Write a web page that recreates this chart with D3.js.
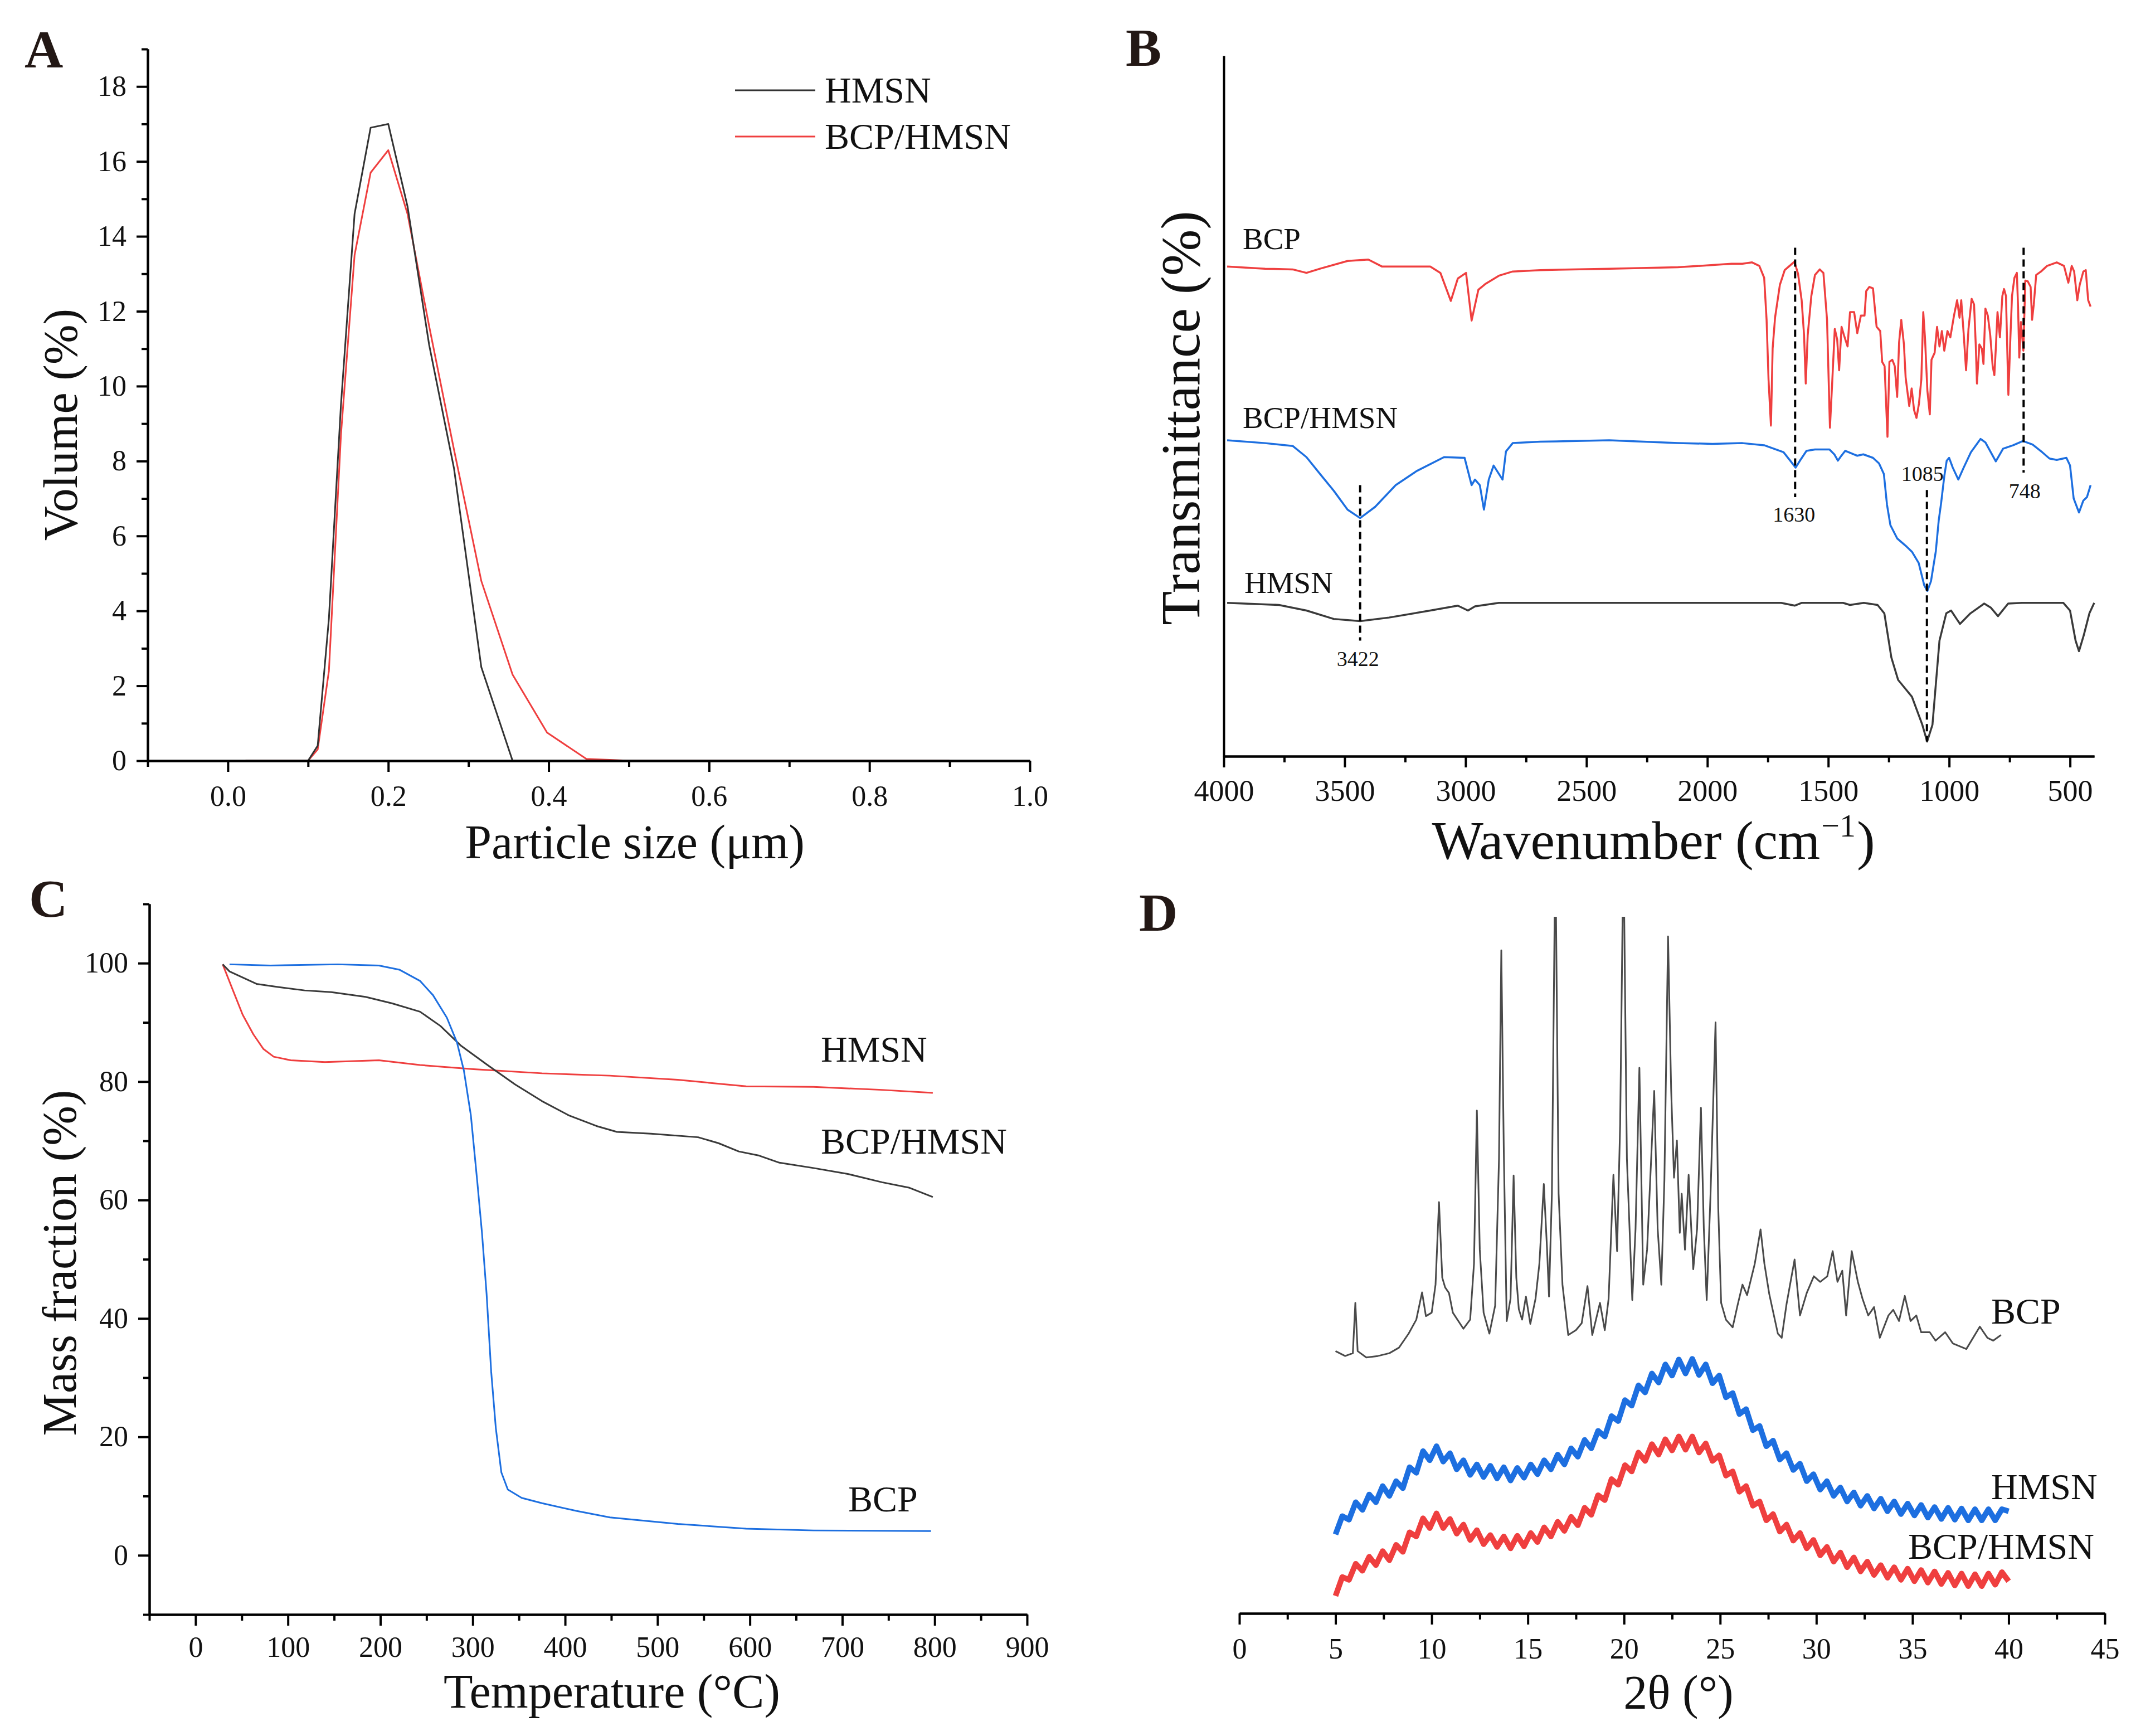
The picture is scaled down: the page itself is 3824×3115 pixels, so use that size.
<!DOCTYPE html>
<html>
<head>
<meta charset="utf-8">
<script src="https://cdn.jsdelivr.net/npm/d3@7"></script>
<style>
  body { margin: 0; background: #fff; }
</style>
</head>
<body>
<div id="fig"></div>
<script>
// ---------- A: particle size distribution ----------
const sizeUm = [0.022, 0.1, 0.112, 0.126, 0.141, 0.158, 0.178, 0.2, 0.224, 0.251, 0.282, 0.316, 0.355, 0.398, 0.447, 0.501, 0.9];
const hmsnVolume = [0, 0, 0.4, 3.8, 9.5, 14.6, 16.9, 17.0, 14.8, 11.1, 7.8, 2.5, 0, 0, 0, 0, 0];
const bcpHmsnVolume = [0, 0, 0.3, 2.4, 8.7, 13.5, 15.7, 16.3, 14.6, 11.6, 8.3, 4.8, 2.3, 0.75, 0.05, 0, 0];
const sizeTicks = [0, 0.2, 0.4, 0.6, 0.8, 1.0];
const sizeMinor = [-0.1, 0.1, 0.3, 0.5, 0.7, 0.9];
const volumeTicks = [0, 2, 4, 6, 8, 10, 12, 14, 16, 18];
const volumeMinor = [1, 3, 5, 7, 9, 11, 13, 15, 17, 19];

// ---------- B: FTIR (wavenumber, transmittance a.u.) ----------
const bcpIR = [[3986,69.9],[3829,69.6],[3715,69.5],[3658,69.0],[3602,69.6],[3488,70.7],[3402,70.9],[3345,69.9],[3146,69.9],[3104,69.0],[3061,65.0],[3032,68.2],[2998,69.0],[2975,62.2],[2947,66.6],[2919,67.4],[2862,68.6],[2805,69.2],[2691,69.4],[2406,69.6],[2122,69.8],[1900,70.3],
  [1855,70.3],[1815,70.5],[1785,70.0],[1765,68.3],[1755,62.3],[1747,53.8],[1737,47.2],[1730,58.2],[1720,62.6],[1700,67.3],[1680,69.4],[1640,70.6],[1625,68.9],[1610,65.1],[1600,60.1],[1593,53.2],[1585,60.1],[1570,65.7],[1555,68.7],[1535,69.5],[1520,69.0],[1505,62.3],[1493,46.9],[1483,53.8],[1473,61.0],[1463,59.5],[1455,55.1],[1445,61.3],[1435,60.1],[1420,58.5],[1410,63.4],[1393,63.4],[1380,60.4],[1365,62.9],[1350,62.9],[1343,66.4],[1330,67.0],[1315,66.8],[1300,61.3],[1285,60.7],[1277,56.3],[1267,55.7],[1255,45.6],[1247,56.3],[1235,56.6],[1225,55.7],[1215,51.3],[1207,59.1],[1198,62.3],[1187,58.8],[1180,54.1],[1165,50.0],[1155,52.5],[1145,49.4],[1135,48.3],[1125,50.3],[1115,53.8],[1107,63.4],[1100,59.8],[1090,52.2],[1080,48.8],[1073,56.6],[1060,57.6],[1050,61.3],[1040,58.5],[1030,60.7],[1020,57.9],[1007,60.7],[995,59.8],[980,62.9],[967,65.1],[957,62.6],[950,65.1],[940,60.4],[930,55.1],[920,61.0],[907,65.3],[897,64.5],[890,58.8],[885,53.2],[875,58.8],[865,58.2],[858,56.0],[850,63.9],[840,62.9],[830,60.1],[820,55.7],[813,54.4],[807,58.2],[800,63.4],[790,59.8],[780,65.7],[773,66.7],[765,65.7],[755,51.6],[747,59.5],[740,65.7],[730,68.3],[720,69.0],[715,64.2],[710,56.9],[703,62.0],[693,57.9],[685,67.9],[675,67.8],[663,67.0],[657,62.3],[650,64.5],[640,68.7],[620,69.2],[595,70.0],[555,70.5],[525,70.0],[507,67.6],[493,70.0],[483,69.2],[470,65.1],[460,67.3],[445,69.2],[435,69.4],[425,65.1],[415,64.2]];
const bcpHmsnIR = [[3986,45.1],[3829,44.7],[3715,44.3],[3658,42.7],[3602,40.3],[3545,37.9],[3488,35.2],[3436,34.0],[3374,35.6],[3289,38.7],[3203,40.7],[3089,42.7],[3004,42.6],[2975,38.7],[2961,39.5],[2941,38.7],[2924,35.2],[2904,39.5],[2884,41.5],[2862,40.3],[2847,39.5],[2833,43.5],[2805,44.7],[2691,44.9],[2406,45.1],[2122,44.7],[1979,44.6],[1855,44.7],[1765,44.4],[1725,43.9],[1685,43.4],[1655,42.1],[1635,41.2],[1615,42.3],[1590,43.6],[1555,43.8],[1495,43.8],[1475,43.1],[1460,42.2],[1450,42.7],[1430,43.6],[1395,43.1],[1380,42.9],[1355,43.1],[1315,42.6],[1290,41.8],[1270,40.3],[1257,35.9],[1243,33.0],[1215,31.1],[1175,29.9],[1154,29.2],[1126,27.6],[1103,24.4],[1090,23.6],[1075,25.0],[1055,29.3],[1043,33.7],[1033,36.2],[1020,40.0],[1010,42.2],[1000,42.6],[985,41.2],[962,39.5],[940,41.2],[910,43.4],[870,45.3],[850,44.8],[807,42.1],[777,43.9],[735,44.4],[695,45.0],[655,44.5],[615,43.4],[585,42.5],[555,42.3],[515,42.6],[500,41.5],[485,36.8],[463,34.8],[445,36.5],[430,37.0],[415,38.7]];
const hmsnIR = [[3986,21.9],[3772,21.6],[3658,20.8],[3545,19.6],[3436,19.3],[3317,19.8],[3146,20.8],[3032,21.5],[2990,20.8],[2961,21.4],[2862,21.9],[1695,21.9],[1638,21.5],[1609,21.9],[1439,21.9],[1410,21.6],[1353,21.9],[1296,21.6],[1268,20.4],[1239,14.1],[1211,10.9],[1154,8.5],[1111,4.5],[1091,2.1],[1069,4.5],[1040,16.5],[1012,20.4],[992,20.8],[969,19.6],[955,18.9],[912,20.4],[855,21.8],[827,21.2],[798,20.0],[756,21.8],[699,21.9],[528,21.9],[500,20.8],[477,16.5],[463,15.0],[443,17.3],[420,20.4],[400,21.9]];
const irMarks = [
  { wave: 3436, label: '3422', from: 38.7, to: 16.5 },
  { wave: 1637, label: '1630', from: 72.6, to: 37.0 },
  { wave: 1092, label: '1085', from: 38.0, to: 2.1 },
  { wave: 692,  label: '748',  from: 72.6, to: 40.5 }
];
const waveTicks = [4000, 3500, 3000, 2500, 2000, 1500, 1000, 500];
const waveMinor = [3750, 3250, 2750, 2250, 1750, 1250, 750];

// ---------- C: TGA (temperature °C, mass %) ----------
const hmsnTG = [[29.4,99.8],[40,95.6],[51,91.3],[62.5,88],[73.5,85.5],[84.6,84.2],[103,83.6],[140,83.3],[198.5,83.6],[243,82.8],[301,82.1],[375,81.4],[448.5,81],[522,80.3],[596,79.2],[669,79.1],[743,78.6],[798,78.1]];
const bcpHmsnTG = [[29.4,99.8],[36.8,98.6],[66,96.5],[88,96],[118,95.4],[147,95.1],[184,94.3],[213,93.2],[243,91.8],[265,89.4],[287,86.1],[316,82.8],[346,79.5],[375,76.7],[404,74.3],[434,72.5],[456,71.5],[493,71.2],[544,70.6],[566,69.6],[588,68.2],[610,67.5],[632,66.3],[669,65.4],[706,64.4],[743,63],[772,62.1],[798,60.5]];
const bcpTG = [[36.8,99.8],[81,99.6],[154,99.8],[198.5,99.6],[220.6,98.9],[243,97],[257,94.6],[272,90.8],[283,86.6],[290.4,81.9],[298,74.3],[305,63],[310,54.5],[315,44.2],[320,31],[325,21.5],[331,14],[338,11.1],[353,9.7],[375,8.8],[412,7.5],[448.5,6.4],[522,5.3],[596,4.5],[669,4.2],[796,4.1]];
const tempTicks = [0, 100, 200, 300, 400, 500, 600, 700, 800, 900];
const tempMinor = [-50, 50, 150, 250, 350, 450, 550, 650, 750, 850];
const massTicks = [0, 20, 40, 60, 80, 100];
const massMinor = [-10, 10, 30, 50, 70, 90, 110];

// ---------- D: XRD (2θ, intensity a.u.) ----------
const bcpXRD = [[5.0,37.5],[5.5,36.8],[5.9,37.2],[6.03,44.4],[6.15,37.5],[6.6,36.6],[7.2,36.8],[7.8,37.2],[8.3,38.0],[8.8,40.0],[9.2,42.0],[9.5,45.9],[9.7,42.5],[10.0,43.0],[10.2,47],[10.38,58.8],[10.55,48],[10.7,46.6],[10.9,45.8],[11.1,43],[11.65,40.7],[12.0,42],[12.2,50],[12.35,71.9],[12.5,52],[12.7,43],[13.0,40],[13.3,44],[13.5,65],[13.62,94.8],[13.75,66],[13.9,41.8],[14.1,45],[14.26,62.6],[14.4,48],[14.53,43.5],[14.7,42],[14.9,45.3],[15.13,41.4],[15.4,45],[15.6,50],[15.83,61.4],[16.0,52],[16.1,45.3],[16.25,60],[16.43,110],[16.6,60],[16.8,47],[17.1,39.8],[17.5,40.5],[17.8,41.5],[18.1,46.8],[18.35,39.8],[18.75,44.4],[19.0,40.5],[19.2,45],[19.45,62.7],[19.64,51.8],[19.8,70],[19.97,110],[20.15,65],[20.43,44.8],[20.6,55],[20.8,78],[21.0,47],[21.2,52],[21.57,74.7],[21.75,55],[21.94,47],[22.1,62],[22.29,96.8],[22.45,75],[22.6,62.3],[22.75,67.6],[22.9,54.4],[23.0,60],[23.17,52],[23.36,62.7],[23.6,49.2],[23.8,55],[24.0,72.3],[24.15,55],[24.3,44.8],[24.5,60],[24.76,84.5],[24.9,58],[25.05,44.4],[25.3,42],[25.65,40.9],[25.9,44],[26.16,47],[26.4,45.5],[26.8,50],[27.1,54.9],[27.3,50],[27.55,45.7],[28.0,40],[28.2,39.4],[28.45,44.2],[28.87,50.6],[29.15,42.6],[29.5,45.8],[29.87,48.2],[30.2,47.4],[30.57,48.2],[30.85,51.8],[31.1,47.4],[31.35,49],[31.55,42.6],[31.84,51.8],[32.16,47.4],[32.4,45],[32.7,42.6],[33.0,43.8],[33.3,39.4],[33.75,42.6],[34.0,43.4],[34.3,41.8],[34.6,45.4],[34.9,41.8],[35.2,42.6],[35.45,40.2],[35.9,40.2],[36.2,39],[36.7,40.2],[37.1,38.6],[37.8,37.8],[38.5,41],[38.9,39.4],[39.2,39],[39.6,39.8]];
// broad amorphous humps, read with their scatter
const xrdTheta = [5.0,5.35,5.7,6.05,6.4,6.75,7.1,7.45,7.8,8.15,8.5,8.85,9.2,9.55,9.9,10.25,10.6,10.95,11.3,11.65,12.0,12.35,12.7,13.05,13.4,13.75,14.1,14.45,14.8,15.15,15.5,15.85,16.2,16.55,16.9,17.25,17.6,17.95,18.3,18.65,19.0,19.35,19.7,20.05,20.4,20.75,21.1,21.45,21.8,22.15,22.5,22.85,23.2,23.55,23.9,24.25,24.6,24.95,25.3,25.65,26.0,26.35,26.7,27.05,27.4,27.75,28.1,28.45,28.8,29.15,29.5,29.85,30.2,30.55,30.9,31.25,31.6,31.95,32.3,32.65,33.0,33.35,33.7,34.05,34.4,34.75,35.1,35.45,35.8,36.15,36.5,36.85,37.2,37.55,37.9,38.25,38.6,38.95,39.3,39.65,40.0];
const hmsnXRD = [11.3,13.9,13.4,15.9,14.8,17.0,15.9,18.2,16.8,18.9,17.9,20.9,20.1,23.2,21.9,23.9,21.7,22.9,20.6,21.9,19.8,21.3,19.5,21.1,19.3,20.9,19.0,20.8,19.4,21.3,19.9,21.9,20.6,22.7,21.3,23.6,22.4,24.8,23.6,26.1,25.3,28.2,27.5,30.5,29.7,32.6,31.6,34.3,33.0,35.6,34.0,36.3,34.3,36.4,34.1,35.6,32.9,34.0,30.9,31.5,28.5,29.2,26.2,26.8,23.9,24.7,22.0,22.9,20.5,21.4,18.9,19.9,17.7,18.9,16.8,18.0,16.0,17.3,15.4,16.8,15.0,16.4,14.6,16.0,14.2,15.7,14.0,15.5,13.7,15.2,13.5,15.1,13.4,15.0,13.3,14.9,13.3,14.9,13.3,14.9,14.6];
const bcpHmsnXRD = [2.5,5.2,4.8,7.1,6.1,8.1,6.9,8.9,7.6,9.8,8.8,11.6,11.0,13.6,12.2,14.3,12.2,13.5,11.4,12.7,10.5,11.9,9.9,11.2,9.5,11.0,9.3,11.1,9.6,11.5,10.2,12.3,11.0,13.1,11.8,13.8,12.6,15.1,14.1,16.9,16.2,19.2,18.4,21.2,20.3,23.0,21.8,24.2,22.7,24.9,23.3,25.3,23.4,25.3,23.0,24.3,21.8,22.6,19.7,20.3,17.4,18.2,15.4,16.0,13.3,14.2,11.7,12.7,10.4,11.5,9.3,10.5,8.3,9.5,7.4,8.7,6.6,8.0,6.0,7.4,5.5,6.9,5.1,6.6,4.8,6.4,4.6,6.2,4.4,6.0,4.2,5.8,4.0,5.7,3.9,5.6,3.9,5.7,4.1,5.9,4.6];
const thetaTicks = [0, 5, 10, 15, 20, 25, 30, 35, 40, 45];
const thetaMinor = [2.5, 7.5, 12.5, 17.5, 22.5, 27.5, 32.5, 37.5, 42.5];

// ---------- drawing ----------
const serif = '"Liberation Serif","Times New Roman",serif';
const RED = '#ef3f3f', BLUE = '#1d6fe0', DARK = '#333333';

const svg = d3.select('#fig').append('svg').attr('width', 3824).attr('height', 3115)
  .style('background', '#fff');

function styleAxis(g, fs) {
  g.attr('font-family', serif).attr('font-size', fs);
  g.select('.domain').attr('stroke', '#000').attr('stroke-width', 4);
  g.selectAll('.tick line').attr('stroke', '#000').attr('stroke-width', 4);
  g.selectAll('.tick text').attr('fill', '#111');
}

function bottomAxis(scale, y, major, minor, fmt, pad, fs) {
  const gm = svg.append('g').attr('transform', `translate(0,${y})`)
    .call(d3.axisBottom(scale).tickValues(minor).tickSize(11).tickSizeOuter(0));
  gm.selectAll('.tick text').remove();
  styleAxis(gm, fs);
  const g = svg.append('g').attr('transform', `translate(0,${y})`)
    .call(d3.axisBottom(scale).tickValues(major).tickSize(20).tickSizeOuter(0).tickPadding(pad).tickFormat(fmt));
  styleAxis(g, fs);
}

function leftAxis(scale, x, major, minor, fmt, pad, fs) {
  const gm = svg.append('g').attr('transform', `translate(${x},0)`)
    .call(d3.axisLeft(scale).tickValues(minor).tickSize(11).tickSizeOuter(0));
  gm.selectAll('.tick text').remove();
  styleAxis(gm, fs);
  const g = svg.append('g').attr('transform', `translate(${x},0)`)
    .call(d3.axisLeft(scale).tickValues(major).tickSize(20).tickSizeOuter(0).tickPadding(pad).tickFormat(fmt));
  styleAxis(g, fs);
}

function label(x, y, txt, size, opts = {}) {
  const t = svg.append('text')
    .attr('x', x).attr('y', y)
    .attr('font-family', serif)
    .attr('font-size', size)
    .attr('fill', opts.fill || '#111')
    .attr('font-weight', opts.bold ? 'bold' : 'normal')
    .attr('text-anchor', opts.anchor || 'start')
    .text(txt);
  if (opts.rotate) t.attr('transform', `rotate(-90,${x},${y})`);
  return t;
}

function drawLine(data, xs, ys, color, width, clip) {
  const p = svg.append('path')
    .datum(data)
    .attr('fill', 'none')
    .attr('stroke', color)
    .attr('stroke-width', width)
    .attr('stroke-linejoin', 'round')
    .attr('d', d3.line().x(d => xs(d[0])).y(d => ys(d[1])));
  if (clip) p.attr('clip-path', clip);
  return p;
}

// ----- panel A -----
const xA = d3.scaleLinear().domain([-0.1, 1.0]).range([265, 1848]);
const yA = d3.scaleLinear().domain([0, 19]).range([1365, 88]);
drawLine(sizeUm.map((s, i) => [s, bcpHmsnVolume[i]]), xA, yA, RED, 3);
drawLine(sizeUm.map((s, i) => [s, hmsnVolume[i]]), xA, yA, DARK, 3);
bottomAxis(xA, 1365, sizeTicks, sizeMinor, d3.format('.1f'), 24, 52);
leftAxis(yA, 265, volumeTicks, volumeMinor, d3.format('d'), 18, 52);
label(1139, 1540, 'Particle size (\u03bcm)', 86, { anchor: 'middle' });
label(138, 762, 'Volume (%)', 86, { anchor: 'middle', rotate: true });
label(44, 121, 'A', 96, { bold: true, fill: '#231815' });

const legendA = [{ name: 'HMSN', color: DARK }, { name: 'BCP/HMSN', color: RED }];
legendA.forEach((d, i) => {
  const ly = 162 + i * 83;
  svg.append('line').attr('x1', 1319).attr('x2', 1463).attr('y1', ly).attr('y2', ly)
    .attr('stroke', d.color).attr('stroke-width', 3);
  label(1480, ly + 22, d.name, 66);
});

// ----- panel B -----
const xB = d3.scaleLinear().domain([4000, 400]).range([2196, 3758]);
const yB = d3.scaleLinear().domain([0, 100]).range([1357, 100]);
drawLine(bcpIR, xB, yB, RED, 3.5);
drawLine(bcpHmsnIR, xB, yB, BLUE, 3.5);
drawLine(hmsnIR, xB, yB, '#3a3a3a', 3.5);
irMarks.forEach(m => {
  svg.append('line')
    .attr('x1', xB(m.wave)).attr('x2', xB(m.wave))
    .attr('y1', yB(m.from)).attr('y2', yB(m.to))
    .attr('stroke', '#000').attr('stroke-width', 4).attr('stroke-dasharray', '13,8');
});
// peak numbers: 3422 and 1630 under the dash, 1085 above, 748 under
label(xB(3436) - 4, yB(16.5) + 45, irMarks[0].label, 38, { anchor: 'middle' });
label(xB(1637) - 2, yB(37.0) + 44, irMarks[1].label, 38, { anchor: 'middle' });
label(xB(1092) - 8, yB(38.0) - 16, irMarks[2].label, 38, { anchor: 'middle' });
label(xB(692) + 2, yB(40.5) + 46, irMarks[3].label, 38, { anchor: 'middle' });
bottomAxis(xB, 1357, waveTicks, waveMinor, d3.format('d'), 22, 54);
svg.append('g').attr('transform', 'translate(2196,0)')
  .call(d3.axisLeft(yB).tickValues([]).tickSizeOuter(0))
  .call(g => styleAxis(g, 54));
label(2230, 447, 'BCP', 55);
label(2230, 768, 'BCP/HMSN', 55);
label(2233, 1064, 'HMSN', 55);
// x title with superscript, laid out as three separate texts
const wA = label(0, 1541, 'Wavenumber (cm', 98);
const wS = label(0, 1501, '\u22121', 58);
const wC = label(0, 1541, ')', 98);
const lenA = wA.node().getComputedTextLength();
const lenS = wS.node().getComputedTextLength();
const lenC = wC.node().getComputedTextLength();
const wStart = 2965 - (lenA + lenS + lenC) / 2;
wA.attr('x', wStart);
wS.attr('x', wStart + lenA + 2);
wC.attr('x', wStart + lenA + lenS + 4);
label(2152, 750, 'Transmittance (%)', 100, { anchor: 'middle', rotate: true });
label(2020, 118, 'B', 96, { bold: true, fill: '#231815' });

// ----- panel C -----
const xC = d3.scaleLinear().domain([-50, 900]).range([268, 1843]);
const yC = d3.scaleLinear().domain([-10, 110]).range([2897, 1622]);
drawLine(hmsnTG, xC, yC, RED, 3);
drawLine(bcpHmsnTG, xC, yC, '#3a3a3a', 3);
drawLine(bcpTG, xC, yC, BLUE, 3);
bottomAxis(xC, 2897, tempTicks, tempMinor, d3.format('d'), 19, 52);
leftAxis(yC, 268, massTicks, massMinor, d3.format('d'), 18, 52);
label(1473, 1905, 'HMSN', 66);
label(1473, 2070, 'BCP/HMSN', 66);
label(1522, 2712, 'BCP', 66);
label(1098, 3064, 'Temperature (\u00b0C)', 86, { anchor: 'middle' });
label(136, 2266, 'Mass fraction (%)', 86, { anchor: 'middle', rotate: true });
label(52, 1645, 'C', 96, { bold: true, fill: '#231815' });

// ----- panel D -----
const xD = d3.scaleLinear().domain([0, 45]).range([2224, 3777]);
const yD = d3.scaleLinear().domain([0, 100]).range([2895, 1640]);
svg.append('clipPath').attr('id', 'clipD').append('rect')
  .attr('x', xD(0)).attr('y', yD(99.6)).attr('width', xD(45) - xD(0)).attr('height', yD(0) - yD(99.6));
drawLine(bcpXRD, xD, yD, '#4a4a4a', 3, 'url(#clipD)');
drawLine(xrdTheta.map((t, i) => [t, hmsnXRD[i]]), xD, yD, BLUE, 10);
drawLine(xrdTheta.map((t, i) => [t, bcpHmsnXRD[i]]), xD, yD, RED, 10);
bottomAxis(xD, 2895, thetaTicks, thetaMinor, d3.format('d'), 24, 52);
label(3573, 2375, 'BCP', 66);
label(3573, 2690, 'HMSN', 66);
label(3424, 2797, 'BCP/HMSN', 66);
label(3012, 3066, '2\u03b8 (\u00b0)', 86, { anchor: 'middle' });
label(2044, 1670, 'D', 96, { bold: true, fill: '#231815' });
</script>
</body>
</html>
